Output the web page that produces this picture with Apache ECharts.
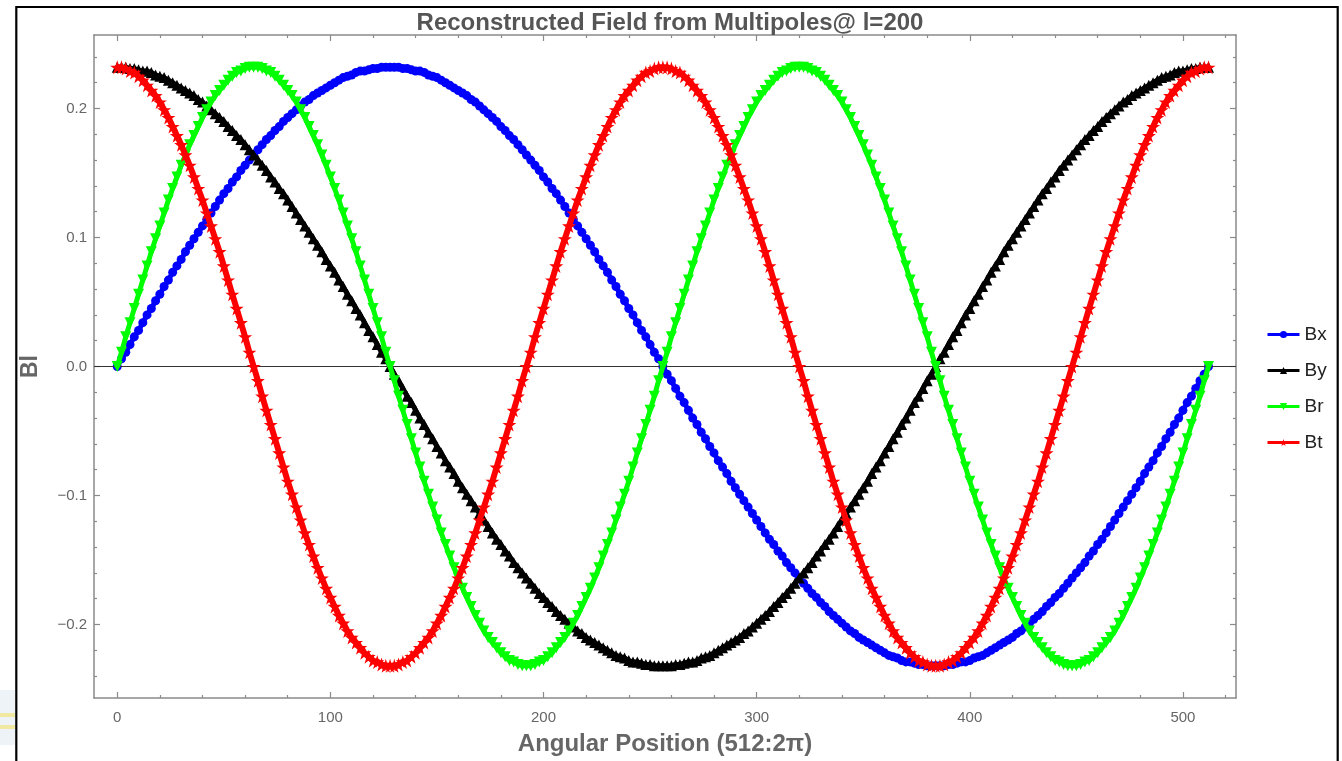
<!DOCTYPE html>
<html>
<head>
<meta charset="utf-8">
<script src="https://cdn.jsdelivr.net/npm/echarts@6/dist/echarts.min.js"></script>
<style>
html,body{margin:0;padding:0;background:#fff;}
#chart{width:1342px;height:761px;}
</style>
</head>
<body>
<div id="chart"></div>
<script>
// ---- data (sampled every 2 angular positions, 0..512) ----
const SAMPLE_STEP = 2;
const seriesNames = ['Bx', 'By', 'Br', 'Bt'];

const bx = [
0.000,0.006,0.011,0.017,0.023,0.028,0.034,0.040,0.045,0.051,0.056,0.062,0.067,0.073,0.078,0.083,0.089,0.094,0.099,0.104,0.109,0.114,0.119,0.124,0.129,0.134,0.138,0.143,0.147,0.152,0.156,0.160,0.164,0.168,0.172,0.176,0.179,0.183,0.186,0.190,0.193,0.196,0.199,0.202,0.205,0.207,0.210,0.212,0.214,0.216,0.218,0.220,0.222,0.224,0.225,0.226,0.228,0.229,0.229,0.230,0.231,0.231,0.232,0.232,0.232,
0.232,0.232,0.231,0.231,0.230,0.229,0.229,0.228,0.226,0.225,0.224,0.222,0.220,0.218,0.216,0.214,0.212,0.210,0.207,0.205,0.202,0.199,0.196,0.193,0.190,0.186,0.183,0.179,0.176,0.172,0.168,0.164,0.160,0.156,0.152,0.147,0.143,0.138,0.134,0.129,0.124,0.119,0.114,0.109,0.104,0.099,0.094,0.089,0.083,0.078,0.073,0.067,0.062,0.056,0.051,0.045,0.040,0.034,0.028,0.023,0.017,0.011,0.006,0.000,
-0.006,-0.011,-0.017,-0.023,-0.028,-0.034,-0.040,-0.045,-0.051,-0.056,-0.062,-0.067,-0.073,-0.078,-0.083,-0.089,-0.094,-0.099,-0.104,-0.109,-0.114,-0.119,-0.124,-0.129,-0.134,-0.138,-0.143,-0.147,-0.152,-0.156,-0.160,-0.164,-0.168,-0.172,-0.176,-0.179,-0.183,-0.186,-0.190,-0.193,-0.196,-0.199,-0.202,-0.205,-0.207,-0.210,-0.212,-0.214,-0.216,-0.218,-0.220,-0.222,-0.224,-0.225,-0.226,-0.228,-0.229,-0.229,-0.230,-0.231,-0.231,-0.232,-0.232,-0.232,
-0.232,-0.232,-0.231,-0.231,-0.230,-0.229,-0.229,-0.228,-0.226,-0.225,-0.224,-0.222,-0.220,-0.218,-0.216,-0.214,-0.212,-0.210,-0.207,-0.205,-0.202,-0.199,-0.196,-0.193,-0.190,-0.186,-0.183,-0.179,-0.176,-0.172,-0.168,-0.164,-0.160,-0.156,-0.152,-0.147,-0.143,-0.138,-0.134,-0.129,-0.124,-0.119,-0.114,-0.109,-0.104,-0.099,-0.094,-0.089,-0.083,-0.078,-0.073,-0.067,-0.062,-0.056,-0.051,-0.045,-0.040,-0.034,-0.028,-0.023,-0.017,-0.011,-0.006,0.000
];

const by = [
0.232,0.232,0.232,0.231,0.231,0.230,0.229,0.229,0.228,0.226,0.225,0.224,0.222,0.220,0.218,0.216,0.214,0.212,0.210,0.207,0.205,0.202,0.199,0.196,0.193,0.190,0.186,0.183,0.179,0.176,0.172,0.168,0.164,0.160,0.156,0.152,0.147,0.143,0.138,0.134,0.129,0.124,0.119,0.114,0.109,0.104,0.099,0.094,0.089,0.083,0.078,0.073,0.067,0.062,0.056,0.051,0.045,0.040,0.034,0.028,0.023,0.017,0.011,0.006,0.000,
-0.006,-0.011,-0.017,-0.023,-0.028,-0.034,-0.040,-0.045,-0.051,-0.056,-0.062,-0.067,-0.073,-0.078,-0.083,-0.089,-0.094,-0.099,-0.104,-0.109,-0.114,-0.119,-0.124,-0.129,-0.134,-0.138,-0.143,-0.147,-0.152,-0.156,-0.160,-0.164,-0.168,-0.172,-0.176,-0.179,-0.183,-0.186,-0.190,-0.193,-0.196,-0.199,-0.202,-0.205,-0.207,-0.210,-0.212,-0.214,-0.216,-0.218,-0.220,-0.222,-0.224,-0.225,-0.226,-0.228,-0.229,-0.229,-0.230,-0.231,-0.231,-0.232,-0.232,-0.232,
-0.232,-0.232,-0.231,-0.231,-0.230,-0.229,-0.229,-0.228,-0.226,-0.225,-0.224,-0.222,-0.220,-0.218,-0.216,-0.214,-0.212,-0.210,-0.207,-0.205,-0.202,-0.199,-0.196,-0.193,-0.190,-0.186,-0.183,-0.179,-0.176,-0.172,-0.168,-0.164,-0.160,-0.156,-0.152,-0.147,-0.143,-0.138,-0.134,-0.129,-0.124,-0.119,-0.114,-0.109,-0.104,-0.099,-0.094,-0.089,-0.083,-0.078,-0.073,-0.067,-0.062,-0.056,-0.051,-0.045,-0.040,-0.034,-0.028,-0.023,-0.017,-0.011,-0.006,0.000,
0.006,0.011,0.017,0.023,0.028,0.034,0.040,0.045,0.051,0.056,0.062,0.067,0.073,0.078,0.083,0.089,0.094,0.099,0.104,0.109,0.114,0.119,0.124,0.129,0.134,0.138,0.143,0.147,0.152,0.156,0.160,0.164,0.168,0.172,0.176,0.179,0.183,0.186,0.190,0.193,0.196,0.199,0.202,0.205,0.207,0.210,0.212,0.214,0.216,0.218,0.220,0.222,0.224,0.225,0.226,0.228,0.229,0.229,0.230,0.231,0.231,0.232,0.232,0.232
];

const br = [
0.000,
0.011,0.023,0.034,0.045,0.056,0.067,0.078,0.089,0.099,0.109,0.119,0.129,0.138,0.147,0.156,0.164,0.172,0.179,0.186,0.193,0.199,0.205,0.210,0.214,0.218,0.222,0.225,0.228,0.229,0.231,0.232,0.232,
0.232,0.231,0.229,0.228,0.225,0.222,0.218,0.214,0.210,0.205,0.199,0.193,0.186,0.179,0.172,0.164,0.156,0.147,0.138,0.129,0.119,0.109,0.099,0.089,0.078,0.067,0.056,0.045,0.034,0.023,0.011,0.000,
-0.011,-0.023,-0.034,-0.045,-0.056,-0.067,-0.078,-0.089,-0.099,-0.109,-0.119,-0.129,-0.138,-0.147,-0.156,-0.164,-0.172,-0.179,-0.186,-0.193,-0.199,-0.205,-0.210,-0.214,-0.218,-0.222,-0.225,-0.228,-0.229,-0.231,-0.232,-0.232,
-0.232,-0.231,-0.229,-0.228,-0.225,-0.222,-0.218,-0.214,-0.210,-0.205,-0.199,-0.193,-0.186,-0.179,-0.172,-0.164,-0.156,-0.147,-0.138,-0.129,-0.119,-0.109,-0.099,-0.089,-0.078,-0.067,-0.056,-0.045,-0.034,-0.023,-0.011,0.000,
0.011,0.023,0.034,0.045,0.056,0.067,0.078,0.089,0.099,0.109,0.119,0.129,0.138,0.147,0.156,0.164,0.172,0.179,0.186,0.193,0.199,0.205,0.210,0.214,0.218,0.222,0.225,0.228,0.229,0.231,0.232,0.232,
0.232,0.231,0.229,0.228,0.225,0.222,0.218,0.214,0.210,0.205,0.199,0.193,0.186,0.179,0.172,0.164,0.156,0.147,0.138,0.129,0.119,0.109,0.099,0.089,0.078,0.067,0.056,0.045,0.034,0.023,0.011,0.000,
-0.011,-0.023,-0.034,-0.045,-0.056,-0.067,-0.078,-0.089,-0.099,-0.109,-0.119,-0.129,-0.138,-0.147,-0.156,-0.164,-0.172,-0.179,-0.186,-0.193,-0.199,-0.205,-0.210,-0.214,-0.218,-0.222,-0.225,-0.228,-0.229,-0.231,-0.232,-0.232,
-0.232,-0.231,-0.229,-0.228,-0.225,-0.222,-0.218,-0.214,-0.210,-0.205,-0.199,-0.193,-0.186,-0.179,-0.172,-0.164,-0.156,-0.147,-0.138,-0.129,-0.119,-0.109,-0.099,-0.089,-0.078,-0.067,-0.056,-0.045,-0.034,-0.023,-0.011,0.000
];

const bt = [
0.232,
0.232,0.231,0.229,0.228,0.225,0.222,0.218,0.214,0.210,0.205,0.199,0.193,0.186,0.179,0.172,0.164,0.156,0.147,0.138,0.129,0.119,0.109,0.099,0.089,0.078,0.067,0.056,0.045,0.034,0.023,0.011,0.000,
-0.011,-0.023,-0.034,-0.045,-0.056,-0.067,-0.078,-0.089,-0.099,-0.109,-0.119,-0.129,-0.138,-0.147,-0.156,-0.164,-0.172,-0.179,-0.186,-0.193,-0.199,-0.205,-0.210,-0.214,-0.218,-0.222,-0.225,-0.228,-0.229,-0.231,-0.232,-0.232,
-0.232,-0.231,-0.229,-0.228,-0.225,-0.222,-0.218,-0.214,-0.210,-0.205,-0.199,-0.193,-0.186,-0.179,-0.172,-0.164,-0.156,-0.147,-0.138,-0.129,-0.119,-0.109,-0.099,-0.089,-0.078,-0.067,-0.056,-0.045,-0.034,-0.023,-0.011,0.000,
0.011,0.023,0.034,0.045,0.056,0.067,0.078,0.089,0.099,0.109,0.119,0.129,0.138,0.147,0.156,0.164,0.172,0.179,0.186,0.193,0.199,0.205,0.210,0.214,0.218,0.222,0.225,0.228,0.229,0.231,0.232,0.232,
0.232,0.231,0.229,0.228,0.225,0.222,0.218,0.214,0.210,0.205,0.199,0.193,0.186,0.179,0.172,0.164,0.156,0.147,0.138,0.129,0.119,0.109,0.099,0.089,0.078,0.067,0.056,0.045,0.034,0.023,0.011,0.000,
-0.011,-0.023,-0.034,-0.045,-0.056,-0.067,-0.078,-0.089,-0.099,-0.109,-0.119,-0.129,-0.138,-0.147,-0.156,-0.164,-0.172,-0.179,-0.186,-0.193,-0.199,-0.205,-0.210,-0.214,-0.218,-0.222,-0.225,-0.228,-0.229,-0.231,-0.232,-0.232,
-0.232,-0.231,-0.229,-0.228,-0.225,-0.222,-0.218,-0.214,-0.210,-0.205,-0.199,-0.193,-0.186,-0.179,-0.172,-0.164,-0.156,-0.147,-0.138,-0.129,-0.119,-0.109,-0.099,-0.089,-0.078,-0.067,-0.056,-0.045,-0.034,-0.023,-0.011,0.000,
0.011,0.023,0.034,0.045,0.056,0.067,0.078,0.089,0.099,0.109,0.119,0.129,0.138,0.147,0.156,0.164,0.172,0.179,0.186,0.193,0.199,0.205,0.210,0.214,0.218,0.222,0.225,0.228,0.229,0.231,0.232,0.232
];

// ---- tick labels ----
const xMajorTicks = [0, 100, 200, 300, 400, 500];
const xMinorTicks = [20,40,60,80,120,140,160,180,220,240,260,280,320,340,360,380,420,440,460,480,520];
const yMajorTicks = [-0.2, -0.1, 0, 0.1, 0.2];
const yMinorTicks = [-0.24,-0.22,-0.18,-0.16,-0.14,-0.12,-0.08,-0.06,-0.04,-0.02,0.02,0.04,0.06,0.08,0.12,0.14,0.16,0.18,0.22,0.24];

const titleText = 'Reconstructed Field from Multipoles@ l=200';
const xTitle = 'Angular Position (512:2\u03C0)';
const yTitle = 'Bl';

// ---- styling ----
const FONT = '"Liberation Sans", Arial, sans-serif';
const X_MIN = -10.9, X_MAX = 524.9;
const Y_MIN = -0.257, Y_MAX = 0.257;
const FRAME = '#8a8a8a';
const colors = { Bx: '#0000ff', By: '#000000', Br: '#00ff00', Bt: '#ff0000' };
const STAR = 'path://M50,0 L61,35 L98,35 L68,57 L79,91 L50,70 L21,91 L32,57 L2,35 L39,35 Z';
const symbols = {
  Bx: { symbol: 'circle', size: 9, rotate: 0, line: 5 },
  By: { symbol: 'triangle', size: 11, rotate: 0, line: 5 },
  Br: { symbol: 'triangle', size: 11, rotate: 180, line: 5 },
  Bt: { symbol: STAR, size: 14, rotate: 0, line: 6 }
};
const dataByName = { Bx: bx, By: by, Br: br, Bt: bt };

function pairs(values) {
  return values.map((v, i) => [i * SAMPLE_STEP, v]);
}

function xAxisDef(position, ticks, len, showLine, showLabels) {
  return {
    type: 'value', position: position, min: X_MIN, max: X_MAX,
    axisLine: { show: showLine, onZero: false, lineStyle: { color: FRAME, width: 1.5 } },
    axisTick: { show: true, inside: true, length: len, customValues: ticks, lineStyle: { color: FRAME, width: 1.2 } },
    axisLabel: { show: showLabels, customValues: ticks, margin: 12, color: '#666', fontSize: 15, fontFamily: FONT },
    splitLine: { show: false }
  };
}
function yAxisDef(position, ticks, len, showLine, showLabels) {
  return {
    type: 'value', position: position, min: Y_MIN, max: Y_MAX,
    axisLine: { show: showLine, onZero: false, lineStyle: { color: FRAME, width: 1.5 } },
    axisTick: { show: true, inside: true, length: len, customValues: ticks, lineStyle: { color: FRAME, width: 1.2 } },
    axisLabel: {
      show: showLabels, customValues: ticks, margin: 7, color: '#666', fontSize: 15, fontFamily: FONT,
      formatter: v => (v < -1e-9 ? '\u2212' : '') + Math.abs(v).toFixed(1)
    },
    splitLine: { show: false }
  };
}

const xAxes = [
  xAxisDef('bottom', xMajorTicks, 6, true, true),
  xAxisDef('bottom', xMinorTicks, 3, false, false),
  xAxisDef('top', xMajorTicks, 6, true, false),
  xAxisDef('top', xMinorTicks, 3, false, false)
];
Object.assign(xAxes[0], {
  name: xTitle, nameLocation: 'middle', nameGap: 34,
  nameTextStyle: { fontSize: 24, fontWeight: 'bold', color: '#666', fontFamily: FONT }
});
const yAxes = [
  yAxisDef('left', yMajorTicks, 6, true, true),
  yAxisDef('left', yMinorTicks, 3, false, false),
  yAxisDef('right', yMajorTicks, 6, true, false),
  yAxisDef('right', yMinorTicks, 3, false, false)
];
Object.assign(yAxes[0], {
  name: yTitle, nameLocation: 'middle', nameGap: 52,
  nameTextStyle: { fontSize: 23, fontWeight: 'bold', color: '#666', fontFamily: FONT }
});

const series = seriesNames.map((name, idx) => {
  const s = {
    name: name, type: 'line', data: pairs(dataByName[name]),
    xAxisIndex: 0, yAxisIndex: 0,
    symbol: symbols[name].symbol, symbolSize: symbols[name].size, symbolRotate: symbols[name].rotate,
    showSymbol: true, showAllSymbol: true,
    itemStyle: { color: colors[name], borderWidth: 0 },
    lineStyle: { color: colors[name], width: symbols[name].line },
    emphasis: { disabled: true },
    animation: false,
    z: 3 + idx
  };
  if (idx === 0) {
    s.markLine = {
      silent: true, symbol: 'none', animation: false,
      label: { show: false },
      lineStyle: { color: '#333', width: 1, type: 'solid' },
      data: [{ yAxis: 0 }]
    };
  }
  return s;
});

const chart = echarts.init(document.getElementById('chart'), null, { renderer: 'canvas' });
chart.setOption({
  backgroundColor: '#ffffff',
  animation: false,
  title: {
    text: titleText, left: 665, top: 6, textAlign: 'center',
    textStyle: { fontSize: 24, fontWeight: 'bold', color: '#555', fontFamily: FONT }
  },
  grid: { left: 94, right: 106, top: 35, bottom: 58, containLabel: false },
  legend: {
    orient: 'vertical', left: 1261, top: 320, itemWidth: 32, itemHeight: 9, itemGap: 17,
    data: seriesNames.map(n => ({ name: n, itemStyle: { color: colors[n] }, lineStyle: { width: 3 } })),
    textStyle: { fontSize: 19, color: '#222', fontFamily: FONT, padding: [0, 0, 0, 0] },
    selectedMode: false
  },
  xAxis: xAxes,
  yAxis: yAxes,
  series: series,
  graphic: [
    { type: 'rect', silent: true, z: 0, shape: { x: 0, y: 690, width: 15, height: 55 }, style: { fill: '#eef3f8' } },
    { type: 'rect', silent: true, z: 0, shape: { x: 0, y: 713, width: 15, height: 4 }, style: { fill: '#f1e9a0' } },
    { type: 'rect', silent: true, z: 0, shape: { x: 0, y: 725, width: 15, height: 4 }, style: { fill: '#f1e9a0' } },
    { type: 'rect', silent: true, z: 100, shape: { x: 16.3, y: 7, width: 1321.4, height: 800 }, style: { fill: 'none', stroke: '#000', lineWidth: 2.2 } }
  ]
});
</script>
</body>
</html>
